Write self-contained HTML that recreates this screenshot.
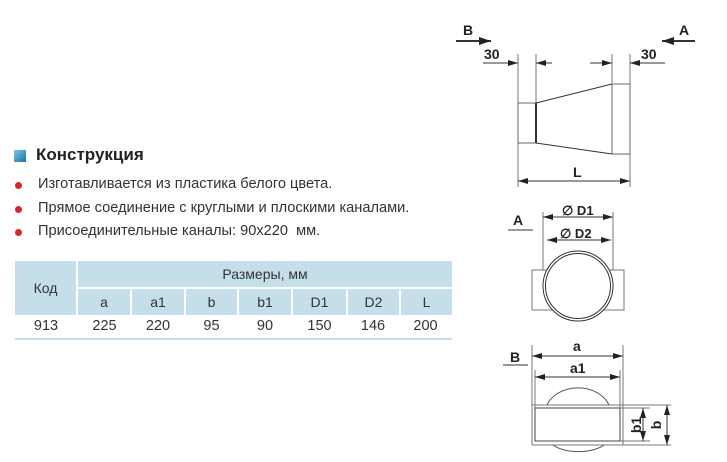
<!DOCTYPE html>
<html><head><meta charset="utf-8"><style>
body{margin:0;width:727px;height:462px;background:#fff;position:relative;overflow:hidden;font-family:"Liberation Sans",sans-serif;color:#222}
.t{position:absolute;white-space:nowrap}
.b{position:absolute;width:7px;height:7px;border-radius:50%;background:#d9252b;left:15px}
.c{position:absolute;background:#c5dfea;color:#333;font-size:14px;text-align:center}
.d{position:absolute;font-size:14.5px;color:#333;text-align:center;top:318px}
</style></head><body>
<div style="position:absolute;left:14px;top:150px;width:12px;height:12px;background:linear-gradient(135deg,#7cc6ea,#1a6fa0)"></div>
<div class="t" style="left:36px;top:145px;font-size:17px;font-weight:bold;color:#222">Конструкция</div>
<div class="b" style="top:182px"></div><div class="t" style="left:38px;top:176px;font-size:14.6px;color:#333">Изготавливается из пластика белого цвета.</div>
<div class="b" style="top:206px"></div><div class="t" style="left:38px;top:200px;font-size:14.6px;color:#333">Прямое соединение с круглыми и плоскими каналами.</div>
<div class="b" style="top:229px"></div><div class="t" style="left:38px;top:223px;font-size:14.6px;color:#333">Присоединительные каналы: 90х220&nbsp; мм.</div>

<div class="c" style="left:15px;top:261px;width:61px;height:54px;line-height:54px">Код</div>
<div class="c" style="left:78px;top:261px;width:374px;height:26px;line-height:26px">Размеры, мм</div>
<div class="c" style="left:78px;top:289px;width:52px;height:26px;line-height:26px">a</div>
<div class="c" style="left:132px;top:289px;width:52px;height:26px;line-height:26px">a1</div>
<div class="c" style="left:186px;top:289px;width:51px;height:26px;line-height:26px">b</div>
<div class="c" style="left:239px;top:289px;width:52px;height:26px;line-height:26px">b1</div>
<div class="c" style="left:293px;top:289px;width:53px;height:26px;line-height:26px">D1</div>
<div class="c" style="left:348px;top:289px;width:51px;height:26px;line-height:26px">D2</div>
<div class="c" style="left:401px;top:289px;width:51px;height:26px;line-height:26px">L</div>
<div class="d" style="left:15px;width:62px">913</div>
<div class="d" style="left:78px;width:53px">225</div>
<div class="d" style="left:131px;width:54px">220</div>
<div class="d" style="left:185px;width:53px">95</div>
<div class="d" style="left:238px;width:54px">90</div>
<div class="d" style="left:292px;width:55px">150</div>
<div class="d" style="left:347px;width:52px">146</div>
<div class="d" style="left:399px;width:53px">200</div>
<div style="position:absolute;left:15px;top:338px;width:437px;height:2px;background:#c5dfea"></div>

<svg width="727" height="462" style="position:absolute;left:0;top:0" font-family="Liberation Sans" font-weight="bold" fill="none" stroke="#333" stroke-width="1">
<defs><marker id="ar" markerWidth="10" markerHeight="6" refX="10" refY="3" orient="auto-start-reverse" markerUnits="userSpaceOnUse"><path d="M0,0L10,3L0,6z" fill="#222" stroke="none"/></marker>
<marker id="ab" markerWidth="12" markerHeight="8" refX="12" refY="4" orient="auto" markerUnits="userSpaceOnUse"><path d="M0,0L12,4L0,8z" fill="#222" stroke="none"/></marker></defs>
<g fill="#222" stroke="none" font-size="14">
<text x="463" y="35">B</text><text x="679" y="35">A</text>
<text x="484" y="59">30</text><text x="641" y="59">30</text>
<text x="573" y="177">L</text>
<text x="513" y="225">A</text><text x="510" y="362">B</text>
<text x="562" y="215" font-size="13">∅ D1</text><text x="560" y="238" font-size="13">∅ D2</text>
<text x="573" y="351">a</text><text x="570" y="373">a1</text>
<text transform="translate(641,425) rotate(-90)" text-anchor="middle">b1</text>
<text transform="translate(661,425) rotate(-90)" text-anchor="middle">b</text>
</g>
<line x1="456" y1="41" x2="491" y2="41" stroke-width="2" marker-end="url(#ab)"/>
<line x1="695" y1="41" x2="662" y2="41" stroke-width="2" marker-end="url(#ab)"/>
<g stroke="#777">
<line x1="518" y1="54" x2="518" y2="187"/><line x1="536" y1="54" x2="536" y2="103"/>
<line x1="612" y1="54" x2="612" y2="84"/><line x1="630" y1="54" x2="630" y2="187"/>
</g>
<line x1="483" y1="63" x2="518" y2="63" marker-end="url(#ar)"/><line x1="552" y1="63" x2="536" y2="63" marker-end="url(#ar)"/>
<line x1="590" y1="63" x2="612" y2="63" marker-end="url(#ar)"/><line x1="665" y1="63" x2="630" y2="63" marker-end="url(#ar)"/>
<rect x="518" y="103" width="18" height="40" stroke="#666"/>
<line x1="536" y1="103" x2="536" y2="143" stroke-width="2"/>
<path d="M536,103L612,84M536,143L612,154"/>
<rect x="612" y="84" width="18" height="70" stroke="#666"/>
<line x1="518" y1="181" x2="630" y2="181" marker-start="url(#ar)" marker-end="url(#ar)"/>
<line x1="508" y1="230" x2="533" y2="230"/><line x1="503" y1="365" x2="528" y2="365"/>
<g stroke="#777"><line x1="543" y1="212" x2="543" y2="280"/><line x1="613" y1="212" x2="613" y2="280"/></g>
<line x1="543" y1="217" x2="613" y2="217" marker-start="url(#ar)" marker-end="url(#ar)"/>
<line x1="547" y1="240" x2="611" y2="240" marker-start="url(#ar)" marker-end="url(#ar)"/>
<rect x="532" y="270" width="92" height="40" fill="#fff" stroke="#777"/>
<circle cx="578" cy="286" r="35" fill="#fff"/><circle cx="578" cy="286" r="32.5"/>
<g stroke="#777"><line x1="532" y1="345" x2="532" y2="405"/><line x1="623" y1="345" x2="623" y2="405"/>
<line x1="535" y1="370" x2="535" y2="408"/><line x1="620" y1="370" x2="620" y2="408"/></g>
<line x1="532" y1="356" x2="623" y2="356" marker-start="url(#ar)" marker-end="url(#ar)"/>
<line x1="535" y1="377" x2="620" y2="377" marker-start="url(#ar)" marker-end="url(#ar)"/>
<path d="M547,405A33,26 0 0 1 609,405" stroke="#555"/>
<path d="M553,445A30,14 0 0 0 604,445" stroke="#555"/>
<rect x="532" y="405" width="91" height="40" stroke="#777"/>
<rect x="535" y="408" width="85" height="33" stroke="#444"/>
<g stroke="#777"><line x1="623" y1="405" x2="671" y2="405"/><line x1="623" y1="445" x2="671" y2="445"/>
<line x1="620" y1="408" x2="650" y2="408"/><line x1="620" y1="441" x2="650" y2="441"/></g>
<line x1="667" y1="405" x2="667" y2="445" marker-start="url(#ar)" marker-end="url(#ar)"/>
<line x1="643" y1="408" x2="643" y2="441" marker-start="url(#ar)" marker-end="url(#ar)"/>
</svg>
</body></html>
